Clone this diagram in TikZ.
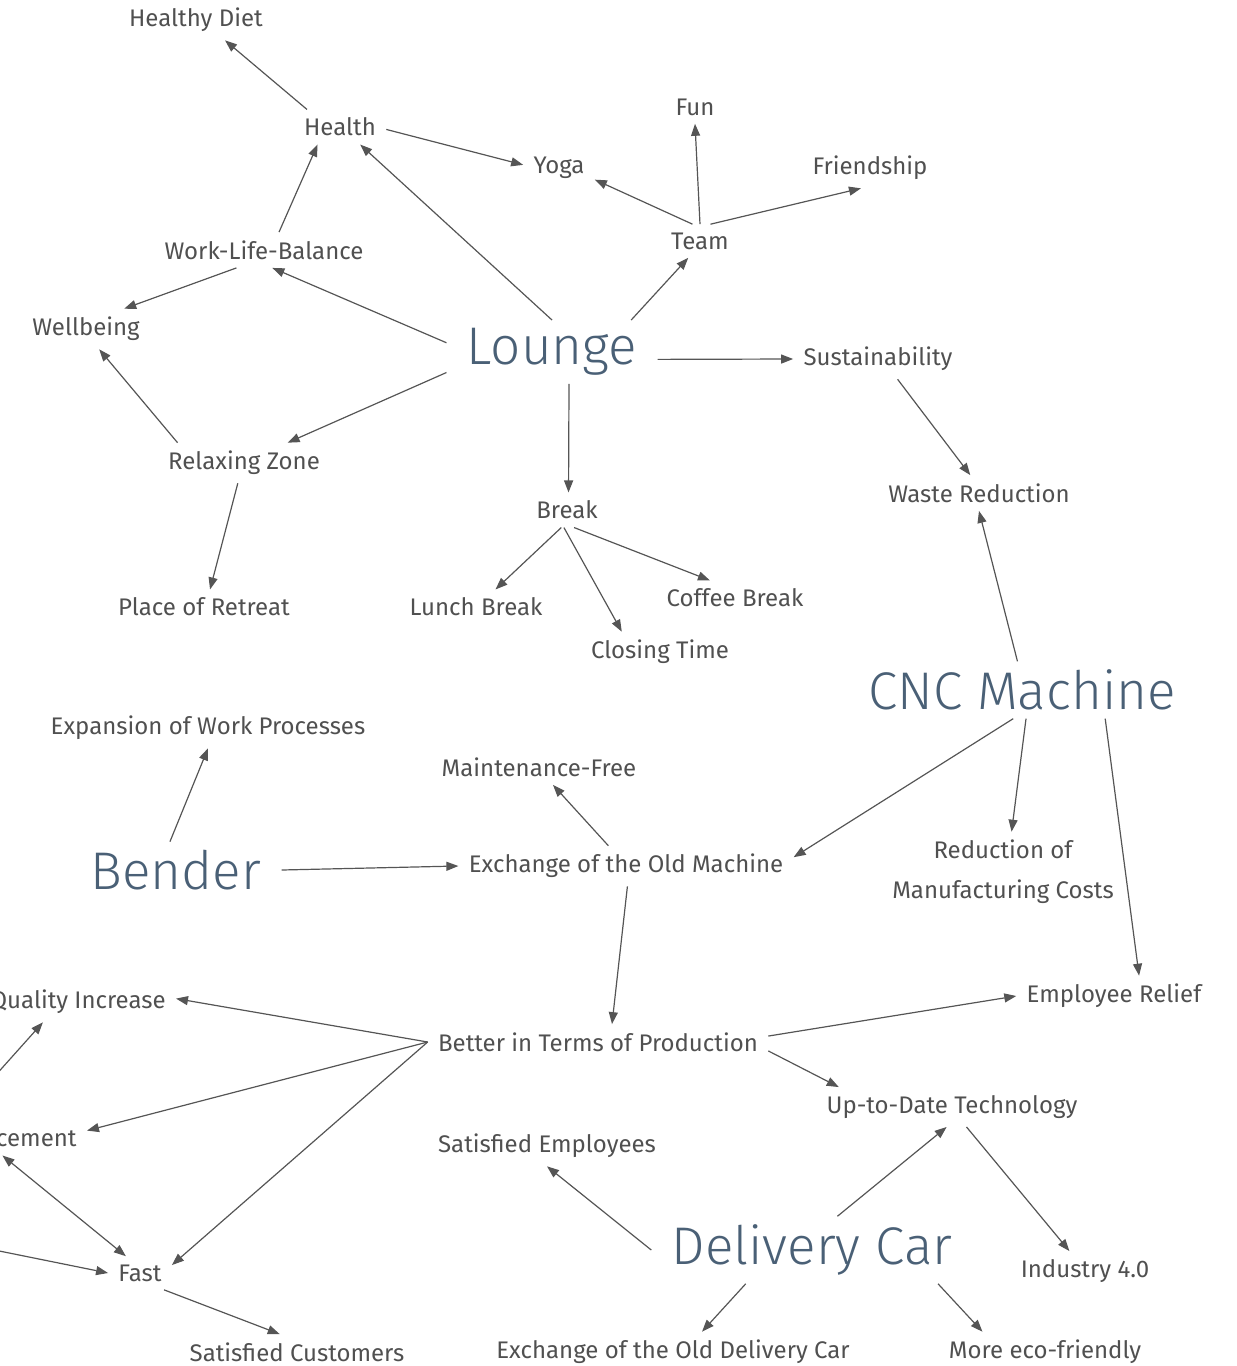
\documentclass[tikz,border=0pt]{standalone}
\usepackage{fontspec}
\setmainfont{Fira Sans}
\newfontfamily\hubfont{Fira Sans Light}
\usetikzlibrary{arrows.meta}
\definecolor{mapText}{HTML}{505050}
\definecolor{mapHub}{HTML}{4A6076}
\definecolor{mapLine}{HTML}{555555}
\tikzset{
  arrowM/.style={-{Triangle[length=6pt, width=4.5pt]}, color=mapLine, line width=0.6pt},
  arrowB/.style={{Triangle[length=6pt, width=4.5pt]}-{Triangle[length=6pt, width=4.5pt]},
                 color=mapLine, line width=0.6pt},
  leaf/.style={text=mapText, font=\fontsize{12}{20}\selectfont, align=center,
               inner xsep=5pt, inner ysep=4pt},
  hub/.style={text=mapHub, font=\hubfont\fontsize{26.5}{32}\selectfont,
              inner xsep=10pt, inner ysep=4pt},
}
\begin{document}
\begin{tikzpicture}[x=0.5pt, y=-0.5pt]
    \useasboundingbox (0,0) rectangle (1237,1366);
    \clip (0,0) rectangle (1237,1366);
    % lounge cluster
    \node[hub]  (lounge)  at (552,352)  {Lounge};
    \node[leaf] (diet)    at (196,20)   {Healthy Diet};
    \node[leaf] (health)  at (340,127)  {Health};
    \node[leaf] (fun)     at (695,107)  {Fun};
    \node[leaf] (yoga)    at (559,168)  {Yoga};
    \node[leaf] (friend)  at (870,168)  {Friendship};
    \node[leaf] (team)    at (700,241)  {Team};
    \node[leaf] (wlb)     at (264,250)  {Work-Life-Balance};
    \node[leaf] (well)    at (86,329)   {Wellbeing};
    \node[leaf] (sust)    at (878,359)  {Sustainability};
    \node[leaf] (relax)   at (244,463)  {Relaxing Zone};
    \node[leaf] (break)   at (567,510)  {Break};
    \node[leaf] (waste)   at (979,493)  {Waste Reduction};
    \node[leaf] (retreat) at (204,607)  {Place of Retreat};
    \node[leaf] (lunch)   at (476,607)  {Lunch Break};
    \node[leaf] (coffee)  at (735,598)  {Coffee Break};
    \node[leaf] (closing) at (660,652)  {Closing Time};
    % machines
    \node[hub]  (cnc)     at (1022,690) {CNC Machine};
    \node[hub]  (bender)  at (176,870)  {Bender};
    \node[leaf] (expand)  at (208,728)  {Expansion of Work Processes};
    \node[leaf] (maint)   at (539,767)  {Maintenance-Free};
    \node[leaf] (exch)    at (626,866)  {Exchange of the Old Machine};
    \node[leaf] (costs)   at (1003,872) {Reduction of\\Manufacturing Costs};
    \node[leaf] (relief)  at (1114,996) {Employee Relief};
    \node[leaf] (better)  at (598,1042) {Better in Terms of Production};
    \node[leaf] (uptech)  at (952,1107) {Up-to-Date Technology};
    \node[leaf, anchor=east] (quality) at (176,1002) {Quality Increase};
    \node[leaf, anchor=east] (enhance) at (87,1138)  {Enhancement};
    \node[leaf] (fast)    at (140,1273) {Fast};
    \node[leaf] (custom)  at (297,1352) {Satisfied Customers};
    % delivery car
    \node[hub]  (car)     at (812,1250) {Delivery Car};
    \node[leaf] (satemp)  at (547,1146) {Satisfied Employees};
    \node[leaf] (ind)     at (1085,1271) {Industry 4.0};
    \node[leaf] (oldcar)  at (673,1352) {Exchange of the Old Delivery Car};
    \node[leaf] (eco)     at (1045,1352) {More eco-friendly};
    \coordinate (offA) at (-40,1115);
    \coordinate (offB) at (-60,1239);

    \draw[arrowM] (health.152) -- (diet.-35);
    \draw[arrowM] (health.-3) -- (yoga.175);
    \draw[arrowM] (wlb.50) -- (health.-142);
    \draw[arrowM] (lounge.90) -- (health.-41);
    \draw[arrowM] (team.114) -- (yoga.-18);
    \draw[arrowM] (team.90) -- (fun.-90);
    \draw[arrowM] (team.58) -- (friend.-114);
    \draw[arrowM] (lounge.22) -- (team.-125);
    \draw[arrowM] (wlb.-147) -- (well.28);
    \draw[arrowM] (lounge.175) -- (wlb.-65);
    \draw[arrowM] (lounge.-4) -- (sust.west);
    \draw[arrowM] (lounge.-169) -- (relax.25);
    \draw[arrowM] (relax.163) -- (well.-57);
    \draw[arrowM] (lounge.-62) -- (break.85);
    \draw[arrowM] (sust.-46) -- (waste.116);
    \draw[arrowM] (relax.-107) -- (retreat.71);
    \draw[arrowM] (break.-108) -- (lunch.42);
    \draw[arrowM] (break.-100) -- (closing.152);
    \draw[arrowM] (break.-68) -- (coffee.145);

    \draw[arrowM] (cnc.99) -- (waste.south);
    \draw[arrowM] (cnc.-107) -- (exch.3);
    \draw[arrowM] (cnc.-82) -- (costs.78);
    \draw[arrowM] (cnc.-19) -- (relief.39);
    \draw[arrowM] (bender.102) -- (expand.south);
    \draw[arrowM] (bender.east) -- (exch.west);
    \draw[arrowM] (exch.131) -- (maint.-52);
    \draw[arrowM] (exch.-86) -- (better.52);
    \draw[arrowM] (better.west) -- (quality.2);
    \draw[arrowM] (better.west) -- (enhance.5);
    \draw[arrowM] (better.west) -- (fast.14);
    \draw[arrowM] (better.2) -- (relief.west);
    \draw[arrowM] (better.-3) -- (uptech.170);
    \draw[arrowM] (offA) -- (quality.-150);
    \draw[arrowB] (enhance.-90) -- (fast.130);
    \draw[arrowM] (offB) -- (fast.west);
    \draw[arrowM] (fast.-35) -- (custom.134);

    \draw[arrowM] (car.west) -- (satemp.south);
    \draw[arrowM] (car.53) -- (uptech.-105);
    \draw[arrowM] (uptech.-54) -- (ind.128);
    \draw[arrowM] (car.-153) -- (oldcar.35);
    \draw[arrowM] (car.-15) -- (eco.162);
\end{tikzpicture}
\end{document}
